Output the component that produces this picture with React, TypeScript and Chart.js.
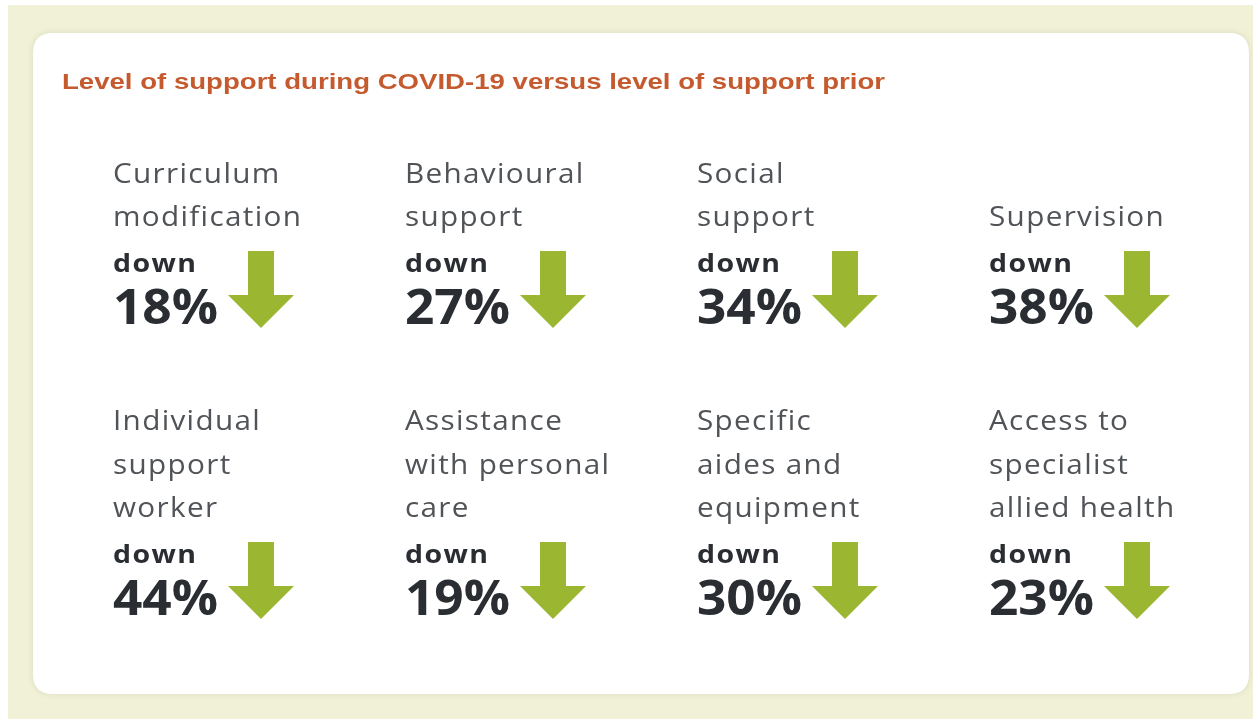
import React, { useEffect, useRef } from "react";
import { Chart, registerables } from "chart.js";

Chart.register(...registerables);

// ---- data ----
const chartTitle = "Level of support during COVID-19 versus level of support prior";
const categories: string[][] = [
  ["Curriculum", "modification"],
  ["Behavioural", "support"],
  ["Social", "support"],
  ["Supervision"],
  ["Individual", "support", "worker"],
  ["Assistance", "with personal", "care"],
  ["Specific", "aides and", "equipment"],
  ["Access to", "specialist", "allied health"],
];
const changeValues: number[] = [18, 27, 34, 38, 44, 19, 30, 23];
const directionWord = "down";
const columnsPerRow = 4;

// ---- layout / style ----
const W = 1253;
const H = 719;
const firstColPx = 113;
const colStepPx = 292;
const firstRowPx = 272;
const rowStepPx = 291;

const COLORS = {
  page: "#ffffff",
  cream: "#f1f1d7",
  card: "#ffffff",
  title: "#c45a2e",
  label: "#505357",
  strong: "#2a2d32",
  arrow: "#9bb630",
};

function roundRect(ctx: CanvasRenderingContext2D, x: number, y: number, w: number, h: number, r: number) {
  ctx.beginPath();
  ctx.moveTo(x + r, y);
  ctx.lineTo(x + w - r, y);
  ctx.quadraticCurveTo(x + w, y, x + w, y + r);
  ctx.lineTo(x + w, y + h - r);
  ctx.quadraticCurveTo(x + w, y + h, x + w - r, y + h);
  ctx.lineTo(x + r, y + h);
  ctx.quadraticCurveTo(x, y + h, x, y + h - r);
  ctx.lineTo(x, y + r);
  ctx.quadraticCurveTo(x, y, x + r, y);
  ctx.closePath();
}

// draws text stretched horizontally, returns the drawn width
function drawStretched(ctx: CanvasRenderingContext2D, text: string, x: number, y: number, sx: number): number {
  const w = ctx.measureText(text).width;
  ctx.save();
  ctx.translate(x, y);
  ctx.scale(sx, 1);
  ctx.fillText(text, 0, 0);
  ctx.restore();
  return w * sx;
}

const infographicPlugin = {
  id: "infographic",
  beforeDraw(chart: any) {
    const ctx: CanvasRenderingContext2D = chart.ctx;
    const w = chart.width;
    const h = chart.height;
    ctx.save();
    ctx.fillStyle = COLORS.page;
    ctx.fillRect(0, 0, w, h);
    ctx.fillStyle = COLORS.cream;
    ctx.fillRect(8, 5, w - 8, h - 5);
    ctx.shadowColor = "rgba(120,120,90,0.18)";
    ctx.shadowBlur = 6;
    ctx.fillStyle = COLORS.card;
    roundRect(ctx, 33, 33, 1249 - 33, 694 - 33, 20);
    ctx.fill();
    ctx.shadowColor = "transparent";
    ctx.shadowBlur = 0;

    // title
    ctx.font = 'bold 22px "Liberation Sans", Arial, sans-serif';
    ctx.fillStyle = COLORS.title;
    ctx.textBaseline = "alphabetic";
    ctx.textAlign = "left";
    const tw = ctx.measureText(chartTitle).width;
    const target = 823;
    ctx.translate(62, 89);
    ctx.scale(target / tw, 1);
    ctx.fillText(chartTitle, 0, 0);
    ctx.restore();
  },
  afterDatasetsDraw(chart: any) {
    const ctx: CanvasRenderingContext2D = chart.ctx;
    const meta = chart.getDatasetMeta(0);
    meta.data.forEach((pt: any, i: number) => {
      const x = pt.x;
      const y = pt.y;
      const lines = categories[i];
      ctx.save();
      ctx.textAlign = "left";
      ctx.textBaseline = "alphabetic";

      // category label lines
      ctx.font = '400 27px "Open Sans", sans-serif';
      (ctx as any).letterSpacing = "1.2px";
      ctx.fillStyle = COLORS.label;
      const n = lines.length;
      lines.forEach((ln, k) => {
        drawStretched(ctx, ln, x, y - 46 - 43.5 * (n - 1 - k), 1.1);
      });

      // direction word
      ctx.font = 'bold 25px "Open Sans", sans-serif';
      (ctx as any).letterSpacing = "1.2px";
      ctx.fillStyle = COLORS.strong;
      drawStretched(ctx, directionWord, x, y, 1.14);

      // percentage
      const pctBase = y + 52;
      ctx.font = '700 48px "Open Sans", sans-serif';
      (ctx as any).letterSpacing = "0px";
      const pct = changeValues[i] + "%";
      const pw = drawStretched(ctx, pct, x, pctBase, 1.07);

      // arrow
      const headW = 66;
      const shaftW = 26;
      const cx = x + pw + 10 + headW / 2;
      const top = pctBase - 73;
      const headTop = pctBase - 29;
      const tip = pctBase + 4;
      ctx.fillStyle = COLORS.arrow;
      ctx.beginPath();
      ctx.moveTo(cx - shaftW / 2, top);
      ctx.lineTo(cx + shaftW / 2, top);
      ctx.lineTo(cx + shaftW / 2, headTop);
      ctx.lineTo(cx + headW / 2, headTop);
      ctx.lineTo(cx, tip);
      ctx.lineTo(cx - headW / 2, headTop);
      ctx.lineTo(cx - shaftW / 2, headTop);
      ctx.closePath();
      ctx.fill();
      ctx.restore();
    });
  },
};

export default function App() {
  const canvasRef = useRef<HTMLCanvasElement | null>(null);

  useEffect(() => {
    if (!canvasRef.current) return;
    const points = changeValues.map((v, i) => ({
      x: i % columnsPerRow,
      y: Math.floor(i / columnsPerRow),
      v,
    }));
    const chart = new Chart(canvasRef.current, {
      type: "scatter",
      data: {
        datasets: [
          {
            label: "Change in level of support (%)",
            data: points as any,
            pointRadius: 0,
            pointHoverRadius: 0,
          },
        ],
      },
      options: {
        animation: false,
        responsive: true,
        maintainAspectRatio: false,
        events: [],
        layout: { padding: 0 },
        scales: {
          x: {
            type: "linear",
            display: false,
            min: -firstColPx / colStepPx,
            max: (W - firstColPx) / colStepPx,
          },
          y: {
            type: "linear",
            display: false,
            reverse: true,
            min: -firstRowPx / rowStepPx,
            max: (H - firstRowPx) / rowStepPx,
          },
        },
        plugins: {
          legend: { display: false },
          tooltip: { enabled: false },
          title: { display: false },
        },
      },
      plugins: [infographicPlugin],
    });
    return () => chart.destroy();
  }, []);

  return (
    <div style={{ position: "absolute", left: 0, top: 0, width: W, height: H }}>
      <canvas ref={canvasRef} />
    </div>
  );
}
